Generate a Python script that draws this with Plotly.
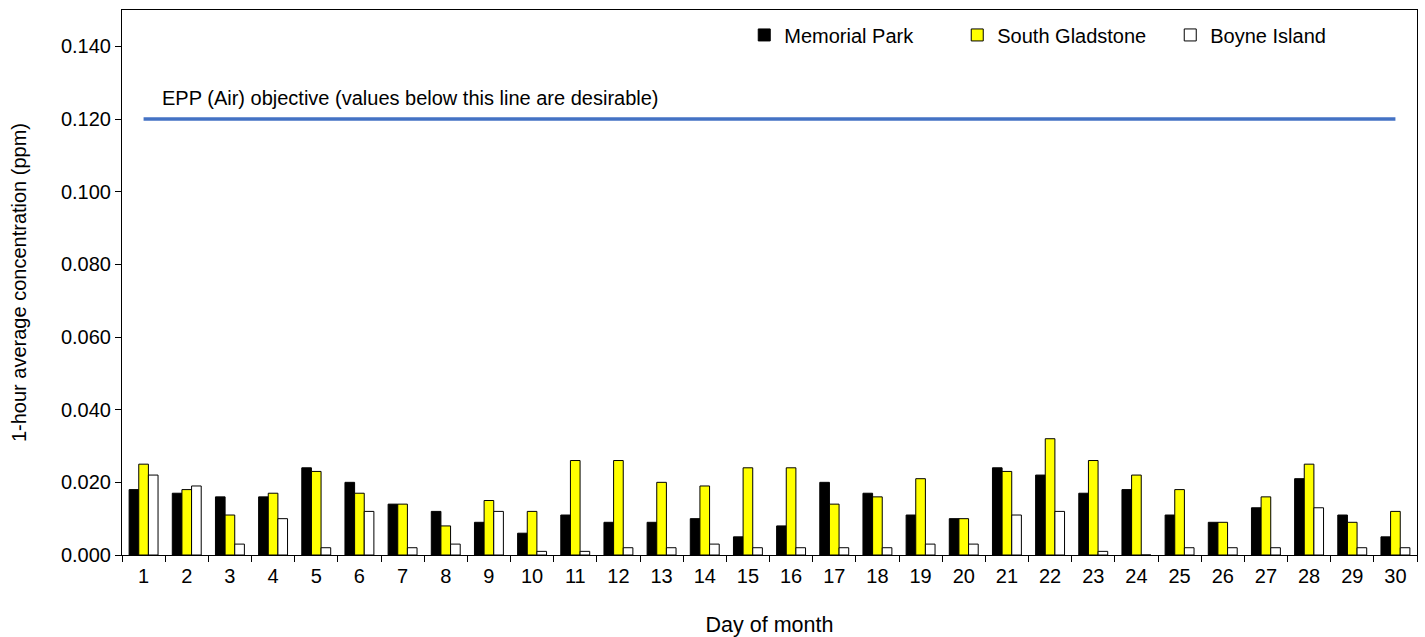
import plotly.graph_objects as go

days = [str(d) for d in range(1, 31)]

memorial_park = [0.018, 0.017, 0.016, 0.016, 0.024, 0.020, 0.014, 0.012, 0.009, 0.006,
                 0.011, 0.009, 0.009, 0.010, 0.005, 0.008, 0.020, 0.017, 0.011, 0.010,
                 0.024, 0.022, 0.017, 0.018, 0.011, 0.009, 0.013, 0.021, 0.011, 0.005]
south_gladstone = [0.025, 0.018, 0.011, 0.017, 0.023, 0.017, 0.014, 0.008, 0.015, 0.012,
                   0.026, 0.026, 0.020, 0.019, 0.024, 0.024, 0.014, 0.016, 0.021, 0.010,
                   0.023, 0.032, 0.026, 0.022, 0.018, 0.009, 0.016, 0.025, 0.009, 0.012]
boyne_island = [0.022, 0.019, 0.003, 0.010, 0.002, 0.012, 0.002, 0.003, 0.012, 0.001,
                0.001, 0.002, 0.002, 0.003, 0.002, 0.002, 0.002, 0.002, 0.003, 0.003,
                0.011, 0.012, 0.001, 0.000, 0.002, 0.002, 0.002, 0.013, 0.002, 0.002]

objective = 0.12
y_ticks = [0.0, 0.02, 0.04, 0.06, 0.08, 0.10, 0.12, 0.14]

FONT = "Liberation Sans, Arial, sans-serif"
FS = 20

fig = go.Figure()

# bars, one trace per station
for name, vals, colour in [("Memorial Park", memorial_park, "#000000"),
                           ("South Gladstone", south_gladstone, "#FFFF00"),
                           ("Boyne Island", boyne_island, "#FFFFFF")]:
    fig.add_trace(go.Bar(x=days, y=vals, name=name,
                         marker=dict(color=colour, line=dict(color="#000000", width=1))))

# objective line
fig.add_trace(go.Scatter(x=[days[0], days[-1]], y=[objective, objective], mode="lines",
                         line=dict(color="#4472C4", width=3.5), showlegend=False,
                         hoverinfo="skip"))

fig.add_annotation(x=0.029, xref="paper", y=objective, yref="y", yshift=21,
                   text="EPP (Air) objective (values below this line are desirable)",
                   showarrow=False, xanchor="left", yanchor="middle",
                   font=dict(size=FS, color="#000000", family=FONT))

fig.update_xaxes(type="category", tickson="boundaries", ticks="outside", ticklen=6,
                 ticklabelstandoff=3,
                 tickcolor="#000000", showline=True, linecolor="#000000", linewidth=1,
                 mirror=True, showgrid=False,
                 title=dict(text="Day of month", standoff=30,
                            font=dict(size=21.5, family=FONT)),
                 tickfont=dict(size=FS, color="#000000", family=FONT))
fig.update_yaxes(range=[0, 0.15], tickvals=y_ticks, tickformat=".3f", ticks="outside",
                 ticklen=6, tickcolor="#000000", showline=True, linecolor="#000000",
                 linewidth=1, mirror=True, showgrid=False, zeroline=False,
                 title=dict(text="1-hour average concentration (ppm)", standoff=28,
                            font=dict(size=FS, family=FONT)),
                 tickfont=dict(size=FS, color="#000000", family=FONT))

fig.update_layout(
    width=1425, height=637,
    barmode="group", bargap=0.33, bargroupgap=0,
    paper_bgcolor="white", plot_bgcolor="white",
    font=dict(family=FONT, size=FS, color="#000000"),
    margin=dict(l=122, r=8, t=10, b=82, autoexpand=False),
    legend=dict(orientation="h", x=0.4805, y=0.99, xanchor="left", yanchor="top",
                entrywidth=168, entrywidthmode="pixels", itemwidth=30,
                font=dict(size=FS, family=FONT), bgcolor="rgba(0,0,0,0)"),
    showlegend=True,
)

fig.write_html("out.html", config={"displayModeBar": False},
               post_script="document.body.style.margin='0';")
